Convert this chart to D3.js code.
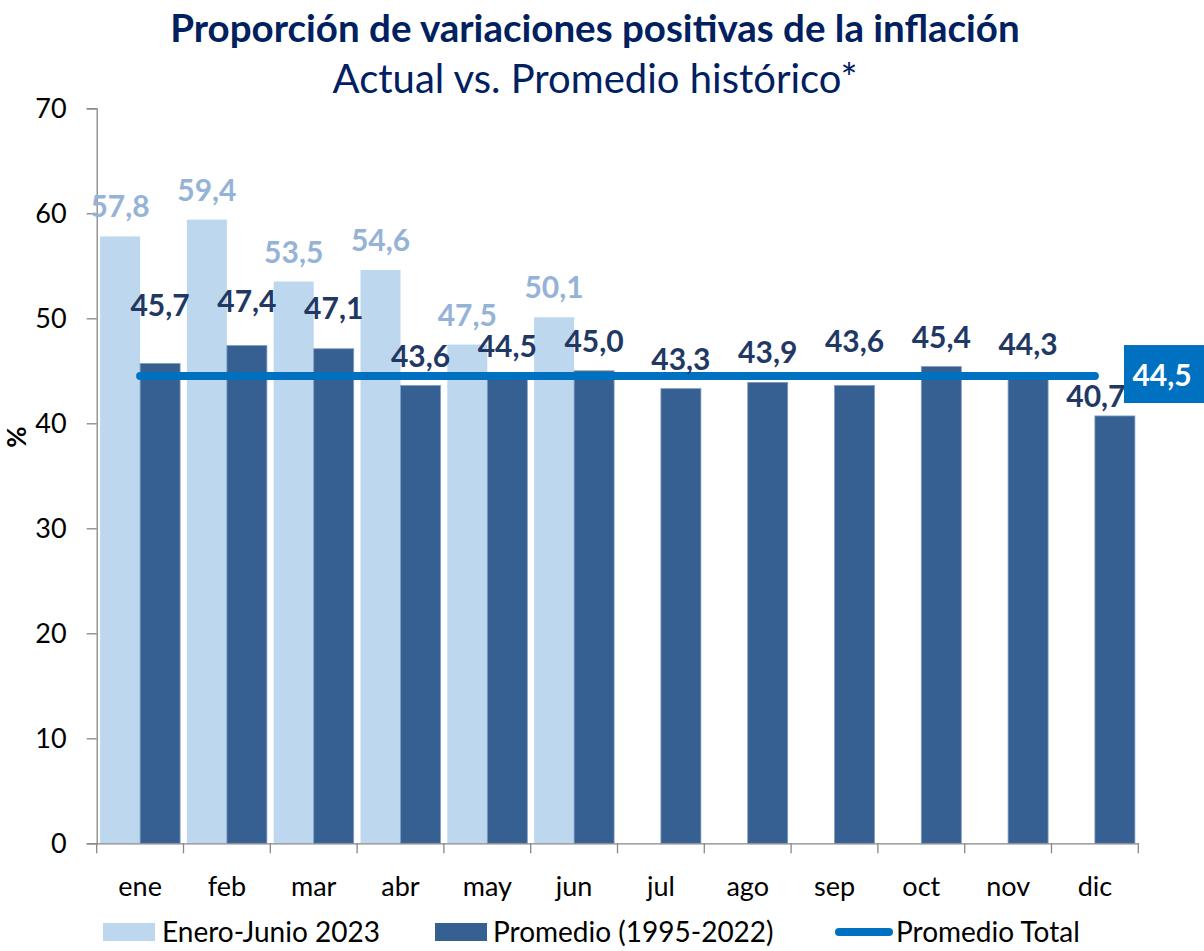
<!DOCTYPE html>
<html>
<head>
<meta charset="utf-8">
<script src="https://cdn.jsdelivr.net/npm/d3@7"></script>
<style>
  html, body { margin: 0; padding: 0; background: #fff; }
  svg { display: block; font-family: Lato, "Open Sans", sans-serif; }
</style>
</head>
<body>
<svg id="chart" width="1204" height="951"></svg>
<script>
// Months of the year
const months = ["ene", "feb", "mar", "abr", "may", "jun", "jul", "ago", "sep", "oct", "nov", "dic"];
// Share of positive monthly variations, January–June 2023 (%)
const actual2023 = [57.8, 59.4, 53.5, 54.6, 47.5, 50.1, null, null, null, null, null, null];
// Historical monthly average 1995–2022 (%)
const historical = [45.7, 47.4, 47.1, 43.6, 44.5, 45.0, 43.3, 43.9, 43.6, 45.4, 44.3, 40.7];
// Overall historical average (%)
const overallAverage = 44.5;
// Y axis ticks
const yTicks = [0, 10, 20, 30, 40, 50, 60, 70];
// Legend entries
const legendLabels = ["Enero-Junio 2023", "Promedio (1995-2022)", "Promedio Total"];

// Extra lift (px) for a few historical labels so they clear neighbouring marks
const histLabelLift = { ene: 28, feb: 15, mar: 11, sep: 15, nov: 4, dic: -10 };
const histLabelShift = { dic: -19 };

const fmt = v => d3.format(".1f")(v).replace(".", ",");

const C = {
  light: "#BDD7EE",
  lightLabel: "#95B3D7",
  dark: "#376092",
  darkLabel: "#1F3864",
  line: "#0070C0",
  title: "#002060",
  axis: "#868686"
};

const svg = d3.select("#chart");

const x = d3.scaleBand().domain(months).range([96.7, 1138.3]).padding(0);
const bw = x.bandwidth();
const sub = d3.scaleBand().domain(["a", "h"]).range([bw / 2 - 40, bw / 2 + 40]).padding(0);
const y = d3.scaleLinear().domain([0, 70]).range([843.3, 108.3]);

// Titles
svg.append("text")
  .attr("x", 595).attr("y", 42)
  .attr("text-anchor", "middle")
  .attr("fill", C.title)
  .attr("font-size", 38.5).attr("font-weight", 700)
  .text("Proporción de variaciones positivas de la inflación");
svg.append("text")
  .attr("x", 595).attr("y", 93)
  .attr("text-anchor", "middle")
  .attr("fill", C.title)
  .attr("font-size", 40)
  .text("Actual vs. Promedio histórico*");

// Y axis
const yAxis = svg.append("g")
  .attr("transform", `translate(${x.range()[0]},0)`)
  .call(d3.axisLeft(y).tickValues(yTicks).tickSize(10).tickPadding(20).tickFormat(d3.format("d")));
yAxis.select(".domain").attr("stroke", C.axis).attr("stroke-width", 1.3);
yAxis.selectAll(".tick line").attr("stroke", C.axis).attr("stroke-width", 1.3);
yAxis.selectAll(".tick text")
  .attr("fill", "#000").attr("font-size", 27).attr("font-family", "Lato, sans-serif")
  .attr("dy", "0.35em");

svg.append("text")
  .attr("transform", "translate(26,437) rotate(-90)")
  .attr("text-anchor", "middle")
  .attr("font-size", 26).attr("font-weight", 700).attr("fill", "#000")
  .text("%");

// Bars: 2023 values
svg.append("g").selectAll("rect")
  .data(months.map((m, i) => ({ m, v: actual2023[i] })).filter(d => d.v != null))
  .join("rect")
  .attr("x", d => x(d.m) + sub("a"))
  .attr("width", sub.bandwidth())
  .attr("y", d => y(d.v))
  .attr("height", d => y(0) - y(d.v))
  .attr("fill", C.light);

// Bars: historical average
svg.append("g").selectAll("rect")
  .data(months.map((m, i) => ({ m, v: historical[i] })))
  .join("rect")
  .attr("x", d => x(d.m) + sub("h"))
  .attr("width", sub.bandwidth())
  .attr("y", d => y(d.v))
  .attr("height", d => y(0) - y(d.v))
  .attr("fill", C.dark)
  .attr("stroke", "#7E9CC4").attr("stroke-width", 0.8);

// X axis
const xAxis = svg.append("g")
  .attr("transform", `translate(0,${y(0)})`)
  .call(d3.axisBottom(x).tickSize(0).tickPadding(34));
xAxis.select(".domain").attr("stroke", C.axis).attr("stroke-width", 1.3);
xAxis.selectAll(".tick text")
  .attr("fill", "#000").attr("font-size", 27).attr("font-family", "Lato, sans-serif");
// Category separators
svg.append("g").selectAll("line")
  .data(months.concat(["__end"]))
  .join("line")
  .attr("x1", (d, i) => x.range()[0] + i * bw)
  .attr("x2", (d, i) => x.range()[0] + i * bw)
  .attr("y1", y(0)).attr("y2", y(0) + 10)
  .attr("stroke", C.axis).attr("stroke-width", 1.3);

// Overall average line
svg.append("line")
  .attr("x1", x("ene") + bw / 2).attr("x2", x("dic") + bw / 2)
  .attr("y1", y(overallAverage)).attr("y2", y(overallAverage))
  .attr("stroke", C.line).attr("stroke-width", 8).attr("stroke-linecap", "round");

// Value labels: 2023
svg.append("g").selectAll("text")
  .data(months.map((m, i) => ({ m, v: actual2023[i] })).filter(d => d.v != null))
  .join("text")
  .attr("x", d => x(d.m) + sub("a") + sub.bandwidth() / 2)
  .attr("y", d => y(d.v) - 19)
  .attr("text-anchor", "middle")
  .attr("fill", C.lightLabel)
  .attr("font-size", 30).attr("font-weight", 700)
  .text(d => fmt(d.v));

// Value labels: historical
svg.append("g").selectAll("text")
  .data(months.map((m, i) => ({ m, v: historical[i] })))
  .join("text")
  .attr("x", d => x(d.m) + sub("h") + sub.bandwidth() / 2 + (histLabelShift[d.m] || 0))
  .attr("y", d => y(d.v) - 19 - (histLabelLift[d.m] || 0))
  .attr("text-anchor", "middle")
  .attr("fill", C.darkLabel)
  .attr("font-size", 30).attr("font-weight", 700)
  .text(d => fmt(d.v));

// Boxed label for the overall average
const boxY = y(overallAverage);
svg.append("rect")
  .attr("x", 1124).attr("y", boxY - 31)
  .attr("width", 80).attr("height", 58)
  .attr("fill", C.line);
svg.append("text")
  .attr("x", 1162).attr("y", boxY + 10)
  .attr("text-anchor", "middle")
  .attr("fill", "#fff")
  .attr("font-size", 30).attr("font-weight", 700)
  .text(fmt(overallAverage));

// Legend
const legend = svg.append("g").attr("font-size", 28).attr("fill", "#000");
const legendX = [103, 435, 835];
const ly = 932;
legend.append("rect").attr("x", legendX[0]).attr("y", ly - 9).attr("width", 52).attr("height", 18).attr("fill", C.light);
legend.append("rect").attr("x", legendX[1]).attr("y", ly - 9).attr("width", 52).attr("height", 18).attr("fill", C.dark);
legend.append("line").attr("x1", legendX[2] + 4).attr("x2", legendX[2] + 54)
  .attr("y1", ly).attr("y2", ly)
  .attr("stroke", C.line).attr("stroke-width", 8).attr("stroke-linecap", "round");
legend.selectAll("text.lg")
  .data(legendLabels)
  .join("text")
  .attr("class", "lg")
  .attr("x", (d, i) => legendX[i] + [59, 58, 61][i])
  .attr("y", ly + 10)
  .text(d => d);
</script>
</body>
</html>
